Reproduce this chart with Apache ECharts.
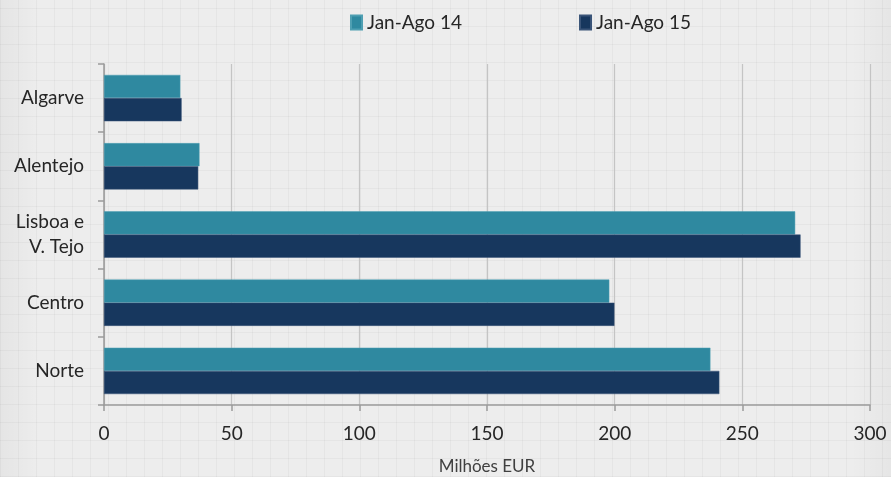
<!DOCTYPE html>
<html><head><meta charset="utf-8">
<script src="https://cdn.jsdelivr.net/npm/echarts@6/dist/echarts.min.js"></script>
<style>
html,body{margin:0;padding:0;overflow:hidden;}
body{width:891px;height:477px;background-color:#ededed;
background-image:
 linear-gradient(90deg, rgba(0,0,0,0.035) 0, rgba(0,0,0,0) 40px, rgba(0,0,0,0) 851px, rgba(0,0,0,0.03) 891px),
 repeating-linear-gradient(0deg, rgba(0,0,0,0.035) 0 1px, transparent 1px 18px),
 repeating-linear-gradient(90deg, rgba(0,0,0,0.035) 0 1px, transparent 1px 18px);}
#c{width:891px;height:477px;}
</style></head><body>
<div id="c"></div>
<script>
const categories = ["Norte", "Centro", "Lisboa e\nV. Tejo", "Alentejo", "Algarve"];
const seriesNames = ["Jan-Ago 14", "Jan-Ago 15"];
const values14 = [237.5, 197.9, 270.7, 37.4, 29.9];
const values15 = [241.0, 199.9, 272.8, 36.9, 30.4];
const xTicks = [0, 50, 100, 150, 200, 250, 300];

const chart = echarts.init(document.getElementById('c'), null, {renderer: 'canvas'});
const font = "Lato, 'Open Sans', sans-serif";
chart.setOption({
  backgroundColor: 'transparent',
  textStyle: {fontFamily: font},
  legend: {
    top: 8, left: 345, itemGap: 117,
    itemWidth: 11, itemHeight: 14,
    icon: 'rect',
    textStyle: {fontSize: 19, color: '#262626', fontFamily: font},
    data: seriesNames
  },
  grid: {left: 104, right: 21, top: 64, bottom: 72, containLabel: false, outerBoundsMode: 'none'},
  xAxis: {
    type: 'value', min: 0, max: 300, interval: 50,
    name: 'Milhões EUR', nameLocation: 'middle', nameGap: 53,
    nameTextStyle: {fontSize: 17, color: '#404040', fontFamily: font},
    axisLine: {show: true, lineStyle: {color: '#9a9a9a', width: 1.5}},
    axisTick: {show: true, length: 6, lineStyle: {color: '#9a9a9a', width: 1.5}},
    axisLabel: {fontSize: 19, color: '#262626', margin: 19, fontFamily: font,
      formatter: v => xTicks.includes(v) ? String(v) : ''},
    splitLine: {show: true, lineStyle: {color: '#c4c4c4', width: 1.2}}
  },
  yAxis: {
    type: 'category', data: categories,
    axisLine: {show: true, lineStyle: {color: '#9a9a9a', width: 1.5}},
    axisTick: {show: true, length: 6, lineStyle: {color: '#9a9a9a', width: 1.5}},
    axisLabel: {fontSize: 19, color: '#262626', margin: 20, lineHeight: 25, fontFamily: font, align: 'right'},
    splitLine: {show: false}
  },
  series: [
    {name: seriesNames[0], type: 'bar', data: values14, barGap: '0%', barCategoryGap: '32%',
     itemStyle: {color: '#2f89a0', borderColor: '#4f9fb2', borderWidth: 0.5}},
    {name: seriesNames[1], type: 'bar', data: values15, barGap: '0%', barCategoryGap: '32%',
     itemStyle: {color: '#17375e', borderColor: '#3a5478', borderWidth: 0.5}}
  ]
});
</script>
</body></html>
